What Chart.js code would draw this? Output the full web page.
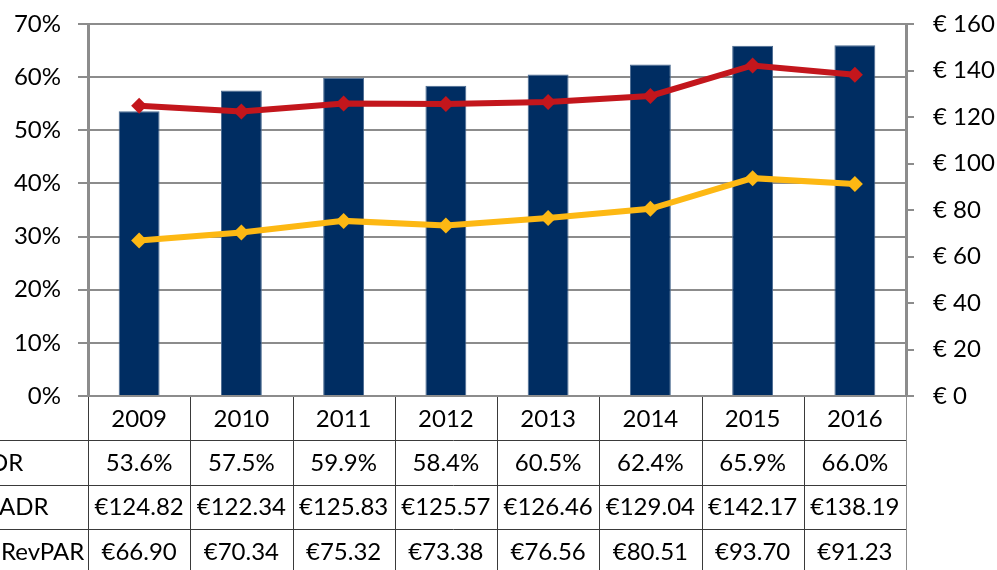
<!DOCTYPE html>
<html>
<head>
<meta charset="utf-8">
<script src="https://cdn.jsdelivr.net/npm/chart.js@4.4.1/dist/chart.umd.min.js"></script>
<style>
html,body{margin:0;padding:0;background:#fff;}
canvas{display:block;}
</style>
</head>
<body>
<canvas id="c" width="997" height="570"></canvas>
<script>
const years = ["2009","2010","2011","2012","2013","2014","2015","2016"];
const occupancy = [53.6, 57.5, 59.9, 58.4, 60.5, 62.4, 65.9, 66.0];
const adr = [124.82, 122.34, 125.83, 125.57, 126.46, 129.04, 142.17, 138.19];
const revpar = [66.90, 70.34, 75.32, 73.38, 76.56, 80.51, 93.70, 91.23];
const rowLabels = ["OR", "ADR", "RevPAR"];
const pctTicks = {min: 0, max: 70, step: 10};
const eurTicks = {min: 0, max: 160, step: 20};

const FONT = "Lato, 'Open Sans', sans-serif";
const labelX = [-11, -1, 1];

const tablePlugin = {
  id: 'dataTable',
  afterDraw(chart) {
    const ctx = chart.ctx;
    const xs = chart.scales.x;
    const area = chart.chartArea;
    const n = years.length;
    const cw = (area.right - area.left) / n;
    const rowH = 44.3;
    const top = area.bottom;
    const rows = [
      years,
      occupancy.map(v => v.toFixed(1) + '%'),
      adr.map(v => '€' + v.toFixed(2)),
      revpar.map(v => '€' + v.toFixed(2))
    ];
    ctx.save();
    ctx.strokeStyle = '#3a3a3a';
    ctx.lineWidth = 1;
    for (let r = 1; r <= 3; r++) {
      const y = Math.round(top + rowH * r) + 0.5;
      ctx.beginPath();
      ctx.moveTo(0, y);
      ctx.lineTo(area.right + 1, y);
      ctx.stroke();
    }
    for (let i = 0; i <= n; i++) {
      const x = Math.round(area.left + cw * i) + 0.5;
      ctx.strokeStyle = (i === n) ? '#8c8c8c' : '#3a3a3a';
      ctx.beginPath();
      ctx.moveTo(x, top + 1);
      ctx.lineTo(x, chart.height);
      ctx.stroke();
    }
    ctx.fillStyle = '#000';
    ctx.font = '24px ' + FONT;
    ctx.textBaseline = 'middle';
    ctx.textAlign = 'center';
    for (let r = 0; r < rows.length; r++) {
      const cy = top + rowH * r + rowH / 2 + 1;
      for (let i = 0; i < n; i++) {
        const cx = xs.getPixelForValue(i);
        ctx.fillText(rows[r][i], cx, cy);
      }
    }
    ctx.textAlign = 'left';
    for (let r = 0; r < rowLabels.length; r++) {
      const cy = top + rowH * (r + 1) + rowH / 2 + 1;
      ctx.fillText(rowLabels[r], labelX[r], cy);
    }
    ctx.restore();
  }
};

function fixV(width) {
  return function(s) { s.width = width; s.paddingTop = 0; s.paddingBottom = 0; };
}

new Chart(document.getElementById('c'), {
  data: {
    labels: years,
    datasets: [
      {
        type: 'line', label: 'ADR', data: adr, yAxisID: 'y1', order: 1,
        borderColor: '#c3161c', backgroundColor: '#c3161c', borderWidth: 6,
        pointStyle: 'rectRot', pointRadius: 8, pointBorderWidth: 0, tension: 0
      },
      {
        type: 'line', label: 'RevPAR', data: revpar, yAxisID: 'y1', order: 1,
        borderColor: '#fdb813', backgroundColor: '#fdb813', borderWidth: 6,
        pointStyle: 'rectRot', pointRadius: 8, pointBorderWidth: 0, tension: 0
      },
      {
        type: 'bar', label: 'OR', data: occupancy, yAxisID: 'y', order: 2,
        backgroundColor: '#002d62', borderColor: '#4a6a90', borderWidth: 1,
        barPercentage: 0.4, categoryPercentage: 1.0
      }
    ]
  },
  options: {
    responsive: false,
    animation: false,
    devicePixelRatio: 1,
    layout: {padding: {top: 24, bottom: 174, left: 0, right: 0}},
    plugins: {legend: {display: false}, tooltip: {enabled: false}},
    scales: {
      x: {display: false, offset: true, grid: {display: false}},
      y: {
        position: 'left', min: pctTicks.min, max: pctTicks.max,
        afterFit: fixV(88),
        ticks: {stepSize: pctTicks.step, padding: 17, color: '#000',
          font: {family: FONT, size: 24}, callback: v => v + '%'},
        grid: {color: '#8c8c8c', lineWidth: 2, tickLength: 10, drawTicks: true},
        border: {color: '#8c8c8c', width: 3}
      },
      y1: {
        position: 'right', min: eurTicks.min, max: eurTicks.max,
        afterFit: fixV(91),
        ticks: {stepSize: eurTicks.step, padding: 19, color: '#000',
          font: {family: FONT, size: 24}, callback: v => '€ ' + v},
        grid: {drawOnChartArea: false, color: '#8c8c8c', lineWidth: 2, tickLength: 8},
        border: {color: '#8c8c8c', width: 3}
      }
    }
  },
  plugins: [tablePlugin]
});
</script>
</body>
</html>
